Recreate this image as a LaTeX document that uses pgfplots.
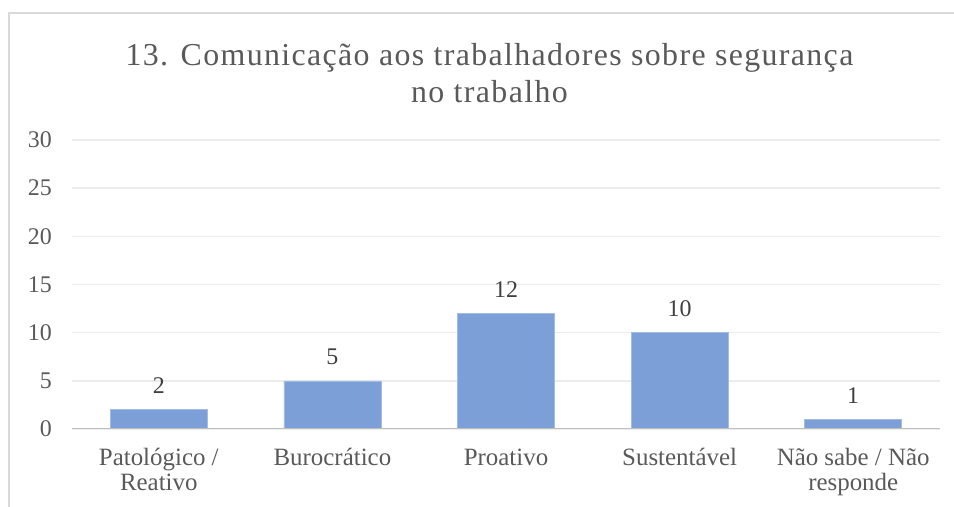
\documentclass[border=0pt]{standalone}
\usepackage{fontspec}
\setmainfont{Liberation Serif}
\newfontfamily\titlefont[LetterSpace=4.3]{Liberation Serif}
\usepackage{pgfplots}
\pgfplotsset{compat=1.18}
\definecolor{barblue}{RGB}{123,159,214}
\definecolor{txtgray}{RGB}{89,89,89}
\definecolor{lblgray}{RGB}{64,64,64}
\definecolor{gridgray}{RGB}{236,236,236}
\definecolor{axisgray}{RGB}{191,191,191}
\definecolor{framegray}{RGB}{217,217,217}
\begin{document}
\begin{tikzpicture}[x=1bp,y=1bp]
\useasboundingbox (0,0) rectangle (954,507);
\begin{scope}
\clip (0,0) rectangle (954,507);
\draw[framegray, line width=1.5bp] (9,-10) -- (9,494) -- (970,494);
\end{scope}
\node[txtgray, font=\titlefont\fontsize{32}{36}\selectfont, anchor=base, inner sep=0pt] at (489.5,441) {13. Comunicação aos trabalhadores sobre segurança};
\node[txtgray, font=\titlefont\fontsize{32}{36}\selectfont, anchor=base, inner sep=0pt] at (489.5,404) {no trabalho};
\begin{axis}[at={(72bp,78bp)}, anchor=south west, scale only axis,
  width=868bp, height=289bp,
  ymin=0, ymax=30, ytick={0,5,...,30},
  xmin=-0.5, xmax=4.5, xtick={0,1,2,3,4},
  xticklabels={{Patológico /\\Reativo}, {Burocrático\\}, {Proativo\\}, {Sustentável\\}, {Não sabe / Não\\responde}},
  xticklabel style={align=center, font=\rmfamily\fontsize{25}{26}\selectfont, text=txtgray, anchor=base, inner sep=0pt, yshift=-62bp},
  yticklabel style={font=\rmfamily\fontsize{24}{26}\selectfont, text=txtgray, anchor=east, inner sep=0pt, xshift=-20bp},
  /pgf/number format/assume math mode=true,
  major tick length=0pt,
  axis line style={draw=none},
  ymajorgrids, grid style={gridgray, line width=1.5bp},
  ybar, bar width=97bp,
  nodes near coords,
  every node near coord/.append style={font=\rmfamily\fontsize{24}{26}\selectfont, text=lblgray, anchor=south, inner sep=0pt, yshift=16bp},
]
\addplot[fill=barblue, draw=barblue!70!white, line width=0.6bp] coordinates {(0,2) (1,5) (2,12) (3,10) (4,1)};
\draw[axisgray, line width=2.5bp] (axis cs:-0.5,0) -- (axis cs:4.5,0);
\end{axis}
\end{tikzpicture}
\end{document}
